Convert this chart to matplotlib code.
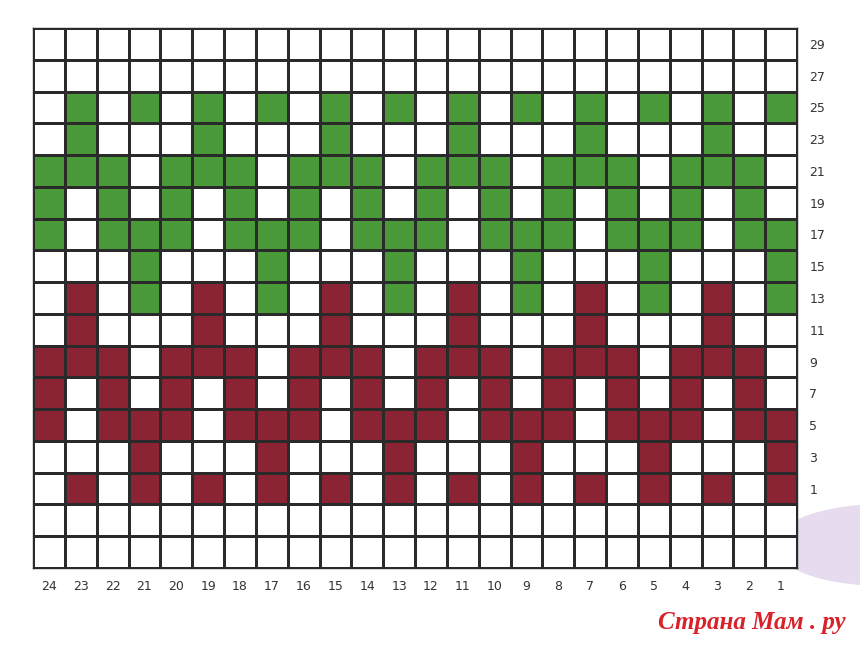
import numpy as np
import matplotlib
matplotlib.use("Agg")
import matplotlib.pyplot as plt
from matplotlib.colors import ListedColormap
from matplotlib.patches import Ellipse

# Knitting chart: columns numbered right-to-left, rows bottom-to-top.
# Each string lists the cells from left (stitch 24) to right (stitch 1).
# . = background, G = green, R = red
col_labels = list(range(24, 0, -1))
row_labels = [29, 27, 25, 23, 21, 19, 17, 15, 13, 11, 9, 7, 5, 3, 1, "", ""]

chart_rows = [
    "........................",  # 29
    "........................",  # 27
    ".G.G.G.G.G.G.G.G.G.G.G.G",  # 25
    ".G...G...G...G...G...G..",  # 23
    "GGG.GGG.GGG.GGG.GGG.GGG.",  # 21
    "G.G.G.G.G.G.G.G.G.G.G.G.",  # 19
    "G.GGG.GGG.GGG.GGG.GGG.GG",  # 17
    "...G...G...G...G...G...G",  # 15
    ".R.G.R.G.R.G.R.G.R.G.R.G",  # 13
    ".R...R...R...R...R...R..",  # 11
    "RRR.RRR.RRR.RRR.RRR.RRR.",  # 9
    "R.R.R.R.R.R.R.R.R.R.R.R.",  # 7
    "R.RRR.RRR.RRR.RRR.RRR.RR",  # 5
    "...R...R...R...R...R...R",  # 3
    ".R.R.R.R.R.R.R.R.R.R.R.R",  # 1
    "........................",
    "........................",
]

codes = {".": 0, "G": 1, "R": 2}
grid = np.array([[codes[c] for c in row] for row in chart_rows])
cmap = ListedColormap(["#ffffff", "#4a9a3a", "#8a2333"])

fig = plt.figure(figsize=(8.6, 6.45), dpi=100)

# watermark blob behind the grid
blob = Ellipse((880 / 860, 1 - 545 / 645), 210 / 860, 80 / 645,
               transform=fig.transFigure, color="#e6dbef", zorder=-1)
fig.patches.append(blob)

ax = fig.add_axes([33 / 860, 1 - 568 / 645, 764 / 860, 540 / 645])
ax.patch.set_alpha(0)

n_rows, n_cols = grid.shape
ax.pcolormesh(np.arange(n_cols + 1), np.arange(n_rows + 1), grid,
              cmap=cmap, vmin=0, vmax=2, edgecolors="#2a2a2a", linewidth=0.8)
ax.set_xlim(0, n_cols)
ax.set_ylim(n_rows, 0)

ax.set_xticks(np.arange(n_cols) + 0.5)
ax.set_xticklabels(col_labels, fontsize=9, color="#333333")
ax.set_yticks(np.arange(n_rows) + 0.5)
ax.set_yticklabels(row_labels, fontsize=9, color="#333333")
ax.yaxis.tick_right()
ax.tick_params(length=0, pad=9)
for sp in ax.spines.values():
    sp.set_color("#2a2a2a")
    sp.set_linewidth(1.0)

fig.text(752 / 860, 1 - 623 / 645, "Страна Мам . ру",
         fontsize=18, family="Liberation Serif", style="italic",
         weight="bold", color="#d8222a", ha="center", va="center")

fig.savefig("out.png", dpi=100)
